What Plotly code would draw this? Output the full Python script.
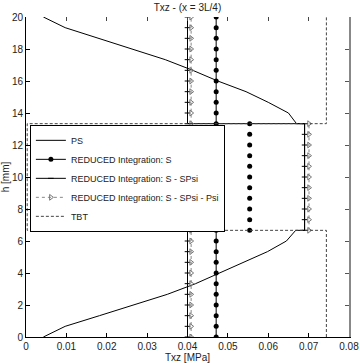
import plotly.graph_objects as go

# ---- data ----
h_bottom = [0.0, 0.667, 1.333, 2.0, 2.667, 3.333, 4.0, 4.667, 5.333, 6.0, 6.667]
h_mid = [6.667, 7.333, 8.0, 8.667, 9.333, 10.0, 10.667, 11.333, 12.0, 12.667, 13.333]
h_top = [13.333, 14.0, 14.667, 15.333, 16.0, 16.667, 17.333, 18.0, 18.667, 19.333, 20.0]

ps_bottom = [0.0043, 0.0097, 0.0182, 0.0268, 0.0350, 0.0420, 0.0478, 0.0540, 0.0598, 0.0645, 0.0668]
ps_mid = [0.0690, 0.0690, 0.0690, 0.0690, 0.0690, 0.0690, 0.0690, 0.0690, 0.0690, 0.0690, 0.0690]
ps_top = [0.0670, 0.0650, 0.0600, 0.0545, 0.0475, 0.0413, 0.0345, 0.0263, 0.0180, 0.0097, 0.0043]

s_bottom = [0.0471, 0.0471, 0.0471, 0.0471, 0.0471, 0.0471, 0.0471, 0.0471, 0.0471, 0.0471, 0.0471]
s_mid = [0.0554, 0.0554, 0.0554, 0.0554, 0.0554, 0.0554, 0.0554, 0.0554, 0.0554, 0.0554, 0.0554]
s_top = [0.0471, 0.0471, 0.0471, 0.0471, 0.0471, 0.0471, 0.0471, 0.0471, 0.0471, 0.0471, 0.0471]

ssp_bottom = [0.0400, 0.0400, 0.0400, 0.0400, 0.0400, 0.0400, 0.0400, 0.0400, 0.0400, 0.0400, 0.0400]
ssp_mid = [0.0690, 0.0690, 0.0690, 0.0690, 0.0690, 0.0690, 0.0690, 0.0690, 0.0690, 0.0690, 0.0690]
ssp_top = [0.0400, 0.0400, 0.0400, 0.0400, 0.0400, 0.0400, 0.0400, 0.0400, 0.0400, 0.0400, 0.0400]

sspp_bottom = [0.0409, 0.0409, 0.0409, 0.0409, 0.0409, 0.0409, 0.0409, 0.0409, 0.0409, 0.0409, 0.0409]
sspp_mid = [0.0701, 0.0701, 0.0701, 0.0701, 0.0701, 0.0701, 0.0701, 0.0701, 0.0701, 0.0701, 0.0701]
sspp_top = [0.0409, 0.0409, 0.0409, 0.0409, 0.0409, 0.0409, 0.0409, 0.0409, 0.0409, 0.0409, 0.0409]

tbt_h = [0.0, 6.667, 6.667, 13.333, 13.333, 20.0]
tbt_val = [0.0744, 0.0744, 0.0003, 0.0003, 0.0744, 0.0744]

x_ticks = [0, 0.01, 0.02, 0.03, 0.04, 0.05, 0.06, 0.07, 0.08]
x_tick_labels = ["0", "0.01", "0.02", "0.03", "0.04", "0.05", "0.06", "0.07", "0.08"]
y_ticks = [0, 2, 4, 6, 8, 10, 12, 14, 16, 18, 20]

FONT = "Liberation Sans, Arial, sans-serif"

fig = go.Figure()

fig.add_trace(go.Scatter(
    x=ps_bottom + ps_mid + ps_top, y=h_bottom + h_mid + h_top,
    mode="lines", name="PS", line=dict(color="black", width=1)))

fig.add_trace(go.Scatter(
    x=s_bottom + [None] + s_top, y=h_bottom + [None] + h_top,
    mode="lines+markers", name="REDUCED Integration: S",
    line=dict(color="black", width=1),
    marker=dict(symbol="circle", size=5, color="black")))
fig.add_trace(go.Scatter(
    x=s_mid, y=h_mid, mode="markers", showlegend=False,
    marker=dict(symbol="circle", size=5, color="black")))

fig.add_trace(go.Scatter(
    x=ssp_bottom + [None] + ssp_mid + ssp_top, y=h_bottom + [None] + h_mid + h_top,
    mode="lines+markers", name="REDUCED Integration: S - SPsi",
    line=dict(color="black", width=1),
    marker=dict(symbol="line-ew-open", size=4, color="black", line=dict(width=1, color="black"))))

fig.add_trace(go.Scatter(
    x=sspp_bottom + [None] + sspp_mid + [None] + sspp_top,
    y=h_bottom + [None] + h_mid + [None] + h_top,
    mode="lines+markers", name="REDUCED Integration: S - SPsi - Psi",
    line=dict(color="#888888", width=1, dash="dot"),
    marker=dict(symbol="triangle-right-open", size=5, color="#777777", line=dict(width=1, color="#777777"))))

fig.add_trace(go.Scatter(
    x=tbt_val, y=tbt_h, mode="lines", name="TBT",
    xaxis="x2", yaxis="y2",
    line=dict(color="#444444", width=1, dash="3px,2px")))

fig.update_layout(
    width=360, height=363,
    margin=dict(l=26, r=11, t=17, b=26),
    paper_bgcolor="white", plot_bgcolor="white",
    font=dict(family=FONT, size=10, color="#222222"),
    title=dict(text="Txz - (x = 3L/4)", x=0.5, xref="paper", y=1 - 7 / 363, yref="container",
               yanchor="middle", xanchor="center", font=dict(size=10, color="#222222")),
    showlegend=True,
    legend=dict(x=0.012, y=0.663, xanchor="left", yanchor="top",
                bgcolor="white", bordercolor="black", borderwidth=1,
                font=dict(family=FONT, size=9, color="#222222"), itemwidth=30, tracegroupgap=0),
    xaxis=dict(range=[0, 0.08], tickvals=x_ticks, ticktext=x_tick_labels,
               ticks="inside", ticklen=4, tickcolor="black",
               showline=True, linecolor="black", linewidth=1,
               showgrid=False, zeroline=False, automargin=False,
               title=dict(text="Txz [MPa]", standoff=0, font=dict(size=10))),
    yaxis=dict(range=[0, 20], tickvals=y_ticks,
               ticks="inside", ticklen=4, tickcolor="black",
               showline=True, linecolor="black", linewidth=1,
               showgrid=False, zeroline=False, automargin=False,
               title=dict(text="h [mm]", standoff=0, font=dict(size=10))),
    xaxis2=dict(overlaying="x", side="top", matches="x", range=[0, 0.08],
                tickvals=x_ticks, ticks="inside", ticklen=4, tickcolor="#444444",
                showticklabels=False, showline=False, showgrid=False, zeroline=False,
                anchor="y2", automargin=False),
    yaxis2=dict(overlaying="y", side="right", range=[0, 20], tickvals=y_ticks,
                ticks="inside", ticklen=4, tickcolor="#555555",
                showticklabels=False, showline=True, linecolor="#888888", linewidth=2,
                showgrid=False, zeroline=False, anchor="x2", automargin=False),
)

fig.write_html("out.html",
               config={"staticPlot": True, "displayModeBar": False, "responsive": False},
               post_script="document.body.style.margin='0';document.body.style.padding='0';")
